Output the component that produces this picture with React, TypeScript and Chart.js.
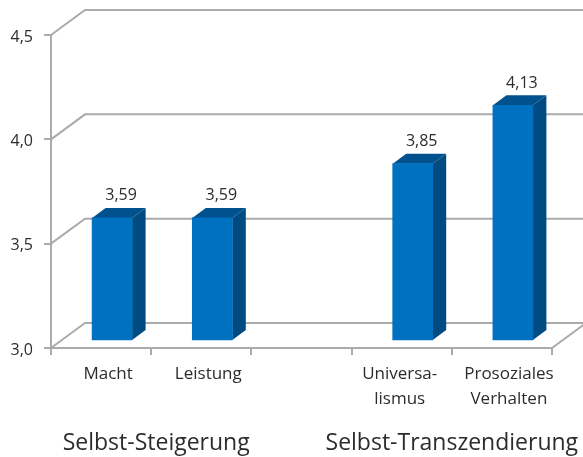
import React, { useEffect, useRef } from "react";
import { Chart, registerables } from "chart.js";

Chart.register(...registerables);

const categories: (string | string[])[] = ["Macht", "Leistung", "", ["Universa-", "lismus"], ["Prosoziales", "Verhalten"]];
const values: (number | null)[] = [3.59, 3.59, null, 3.85, 4.13];
const valueLabels: string[] = ["3,59", "3,59", "", "3,85", "4,13"];
const yTicks: number[] = [3, 3.5, 4, 4.5];
const groups = [
  { label: "Selbst-Steigerung", from: 0, to: 1, nudge: 5 },
  { label: "Selbst-Transzendierung", from: 3, to: 4, nudge: 0 },
];

const FONT = '"Open Sans", "Noto Sans", sans-serif';
const TEXT = "#2c2c2c";
const GRID = "#ababab";
const FRONT = "#0070c0";
const SIDE = "#004b82";
const TOP = "#00528f";
const WALL_DX = 34;
const WALL_DY = -25;
const BAR_SHIFT_X = 11;
const BAR_SHIFT_Y = -7;
const BAR_DX = 13.5;
const BAR_DY = -10;
const UNIVERSALISMUS_LABEL_NUDGE = -9;

const scene3d = {
  id: "scene3d",
  afterUpdate(chart: any) {
    const items = chart.scales.x.getLabelItems();
    const item = items.find((it: any) => Array.isArray(it.label) && it.label[0] === "Universa-");
    if (item) item.options.translation[0] += UNIVERSALISMUS_LABEL_NUDGE;
  },
  beforeDatasetsDraw(chart: any) {
    const { ctx, chartArea: a, scales } = chart;
    ctx.save();
    ctx.strokeStyle = GRID;
    ctx.lineWidth = 2;
    for (const v of yTicks) {
      const y = scales.y.getPixelForValue(v);
      ctx.beginPath();
      ctx.moveTo(a.left, y);
      ctx.lineTo(a.left + WALL_DX, y + WALL_DY);
      ctx.lineTo(chart.width, y + WALL_DY);
      ctx.stroke();
    }
    ctx.beginPath();
    ctx.moveTo(a.right, a.bottom);
    ctx.lineTo(a.right + WALL_DX, a.bottom + WALL_DY);
    ctx.stroke();
    ctx.restore();
  },
  beforeDatasetDraw(chart: any, args: any) {
    const { ctx } = chart;
    ctx.save();
    ctx.translate(BAR_SHIFT_X, BAR_SHIFT_Y);
    const meta = chart.getDatasetMeta(args.index);
    meta.data.forEach((el: any, i: number) => {
      if (values[i] == null) return;
      const l = el.x - el.width / 2;
      const r = el.x + el.width / 2;
      ctx.fillStyle = TOP;
      ctx.beginPath();
      ctx.moveTo(l, el.y);
      ctx.lineTo(l + BAR_DX, el.y + BAR_DY);
      ctx.lineTo(r + BAR_DX, el.y + BAR_DY);
      ctx.lineTo(r, el.y);
      ctx.closePath();
      ctx.fill();
      ctx.fillStyle = SIDE;
      ctx.beginPath();
      ctx.moveTo(r, el.y);
      ctx.lineTo(r + BAR_DX, el.y + BAR_DY);
      ctx.lineTo(r + BAR_DX, el.base + BAR_DY);
      ctx.lineTo(r, el.base);
      ctx.closePath();
      ctx.fill();
    });
  },
  afterDatasetDraw(chart: any, args: any) {
    const { ctx } = chart;
    ctx.restore();
    const meta = chart.getDatasetMeta(args.index);
    ctx.save();
    ctx.fillStyle = TEXT;
    ctx.font = `16px ${FONT}`;
    ctx.textAlign = "center";
    ctx.textBaseline = "middle";
    meta.data.forEach((el: any, i: number) => {
      if (values[i] == null) return;
      ctx.fillText(valueLabels[i], el.x + 20, el.y - 29);
    });
    ctx.font = `23px ${FONT}`;
    for (const g of groups) {
      const x = (chart.scales.x.getPixelForTick(g.from) + chart.scales.x.getPixelForTick(g.to)) / 2 + g.nudge;
      ctx.fillText(g.label, x, 443);
    }
    ctx.restore();
  },
};

export default function App() {
  const ref = useRef<HTMLCanvasElement>(null);
  useEffect(() => {
    const chart = new Chart(ref.current as HTMLCanvasElement, {
      type: "bar",
      data: {
        labels: categories as any,
        datasets: [{ data: values, base: 3, clip: false, backgroundColor: FRONT, barThickness: 40, borderWidth: 0 } as any],
      },
      plugins: [scene3d],
      options: {
        responsive: false,
        animation: false,
        layout: { padding: { top: 35, right: 31, left: 0, bottom: 0 } },
        plugins: { legend: { display: false }, tooltip: { enabled: false } },
        scales: {
          x: {
            offset: true,
            afterFit: (s: any) => { s.height = 109; },
            border: { color: GRID, width: 2 },
            grid: { color: GRID, lineWidth: 2, drawOnChartArea: false, tickLength: 7, offset: true },
            ticks: {
              color: TEXT,
              font: { family: FONT, size: 17, lineHeight: 1.45 },
              maxRotation: 0,
              autoSkip: false,
              padding: 7,
              labelOffset: 7,
            },
          },
          y: {
            min: 3,
            max: 4.5,
            afterFit: (s: any) => { s.width = 51; },
            border: { color: GRID, width: 2 },
            grid: { color: GRID, lineWidth: 2, drawOnChartArea: false, tickLength: 7 },
            ticks: {
              stepSize: 0.5,
              color: TEXT,
              font: { family: FONT, size: 16 },
              padding: 11,
              labelOffset: 2,
              callback: (v: any) => Number(v).toFixed(1).replace(".", ","),
            },
          },
        },
      },
    });
    return () => chart.destroy();
  }, []);
  return (
    <canvas
      ref={ref}
      width={583}
      height={457}
      style={{ position: "absolute", left: 0, top: 0, width: 583, height: 457, background: "#fff", filter: "blur(0.4px)" }}
    />
  );
}
